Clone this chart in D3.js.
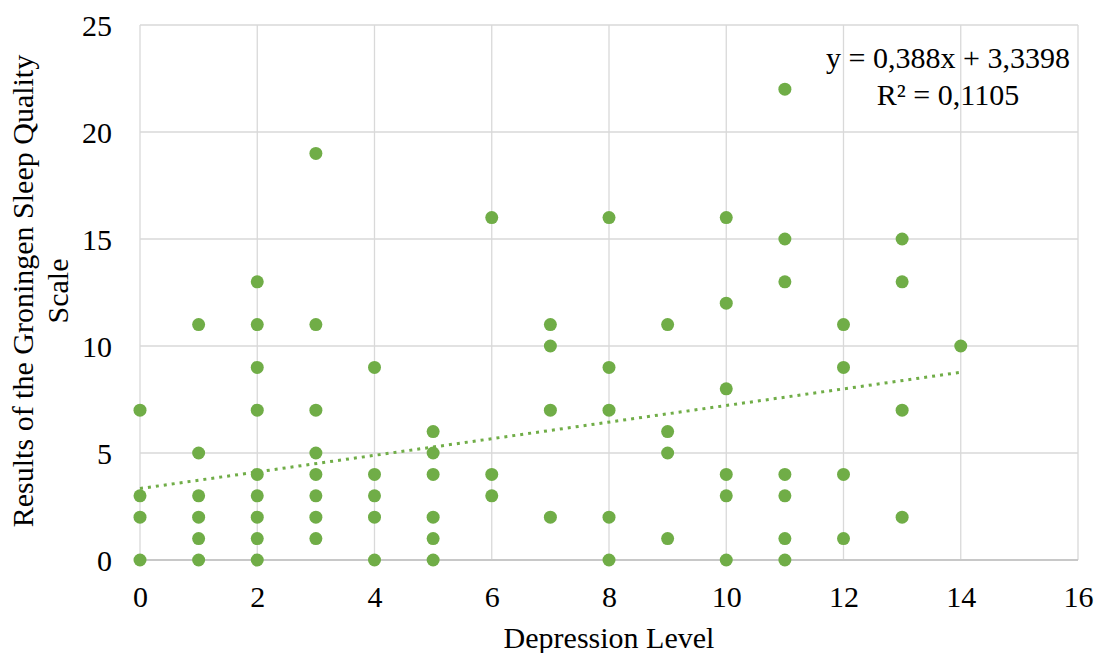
<!DOCTYPE html>
<html>
<head>
<meta charset="utf-8">
<script src="https://cdn.jsdelivr.net/npm/d3@7"></script>
<style>
  body { margin: 0; background: #fff; }
  text { font-family: "Liberation Serif", "Times New Roman", serif; fill: #000; }
</style>
</head>
<body>
<div id="chart"></div>
<script>
// depression level (x) and Groningen sleep quality score (y), one entry per dot
const depressionLevel = [
    0, 0, 0, 0,
    1, 1, 1, 1, 1, 1,
    2, 2, 2, 2, 2, 2, 2, 2, 2,
    3, 3, 3, 3, 3, 3, 3, 3,
    4, 4, 4, 4, 4,
    5, 5, 5, 5, 5, 5,
    6, 6, 6,
    7, 7, 7, 7,
    8, 8, 8, 8, 8,
    9, 9, 9, 9,
    10, 10, 10, 10, 10, 10,
    11, 11, 11, 11, 11, 11, 11,
    12, 12, 12, 12,
    13, 13, 13, 13,
    14
];
const sleepQuality = [
    7, 3, 2, 0,
    11, 5, 3, 2, 1, 0,
    13, 11, 9, 7, 4, 3, 2, 1, 0,
    19, 11, 7, 5, 4, 3, 2, 1,
    9, 4, 3, 2, 0,
    6, 5, 4, 2, 1, 0,
    16, 4, 3,
    11, 10, 7, 2,
    16, 9, 7, 2, 0,
    11, 6, 5, 1,
    16, 12, 8, 4, 3, 0,
    22, 15, 13, 4, 3, 1, 0,
    11, 9, 4, 1,
    15, 13, 7, 2,
    10
];
const xTicks = [0, 2, 4, 6, 8, 10, 12, 14, 16];
const yTicks = [0, 5, 10, 15, 20, 25];
const trendSlope = 0.388;
const trendIntercept = 3.3398;
const trendRange = [0, 14];
const equationLines = ["y = 0,388x + 3,3398", "R\u00b2 = 0,1105"];

const W = 1098, H = 653;
const margin = {top: 25, right: 20, bottom: 93, left: 140};
const width = W - margin.left - margin.right;
const height = H - margin.top - margin.bottom;
const green = "#70ad47";
const fontSize = "30px";

const svg = d3.select("#chart")
              .append("svg")
              .attr("width", W)
              .attr("height", H);
const g = svg.append("g")
             .attr("transform", "translate(" + margin.left + "," + margin.top + ")");

const x = d3.scaleLinear().domain([0, 16]).range([0, width]);
const y = d3.scaleLinear().domain([0, 25]).range([height, 0]);

// gridlines
g.append("g")
 .selectAll("line.vgrid")
 .data(xTicks)
 .enter()
 .append("line")
 .attr("x1", d => x(d)).attr("x2", d => x(d))
 .attr("y1", 0).attr("y2", height)
 .attr("stroke", "#d9d9d9").attr("stroke-width", 1.3);
g.append("g")
 .selectAll("line.hgrid")
 .data(yTicks)
 .enter()
 .append("line")
 .attr("x1", 0).attr("x2", width)
 .attr("y1", d => y(d)).attr("y2", d => y(d))
 .attr("stroke", d => d === 0 ? "#c8c8c8" : "#d9d9d9")
 .attr("stroke-width", d => d === 0 ? 2 : 1.3);

// axes (labels only)
const xAxis = g.append("g")
               .attr("transform", "translate(0," + height + ")")
               .call(d3.axisBottom(x).tickValues(xTicks).tickSize(0).tickPadding(26));
const yAxis = g.append("g")
               .call(d3.axisLeft(y).tickValues(yTicks).tickSize(0).tickPadding(28));
[xAxis, yAxis].forEach(a => {
    a.select(".domain").remove();
    a.selectAll("text")
     .style("font-family", "'Liberation Serif', 'Times New Roman', serif")
     .style("font-size", fontSize)
     .attr("fill", "#000");
});
xAxis.selectAll("text").attr("dy", "0.71em");
yAxis.selectAll("text").attr("dy", "0.35em");

// trendline
g.append("line")
 .attr("x1", x(trendRange[0]))
 .attr("y1", y(trendIntercept + trendSlope * trendRange[0]))
 .attr("x2", x(trendRange[1]))
 .attr("y2", y(trendIntercept + trendSlope * trendRange[1]))
 .attr("stroke", green)
 .attr("stroke-width", 3)
 .attr("stroke-dasharray", "3,5");

// points
g.append("g")
 .selectAll("circle")
 .data(depressionLevel.map((d, i) => ({x: d, y: sleepQuality[i]})))
 .enter()
 .append("circle")
 .attr("cx", d => x(d.x))
 .attr("cy", d => y(d.y))
 .attr("r", 6.5)
 .attr("fill", green);

// equation
const eqX = 948 - margin.left;
const eq = g.append("text")
            .attr("x", eqX)
            .attr("y", 68 - margin.top)
            .attr("text-anchor", "middle")
            .style("font-size", fontSize);
eq.selectAll("tspan")
  .data(equationLines)
  .enter()
  .append("tspan")
  .attr("x", eqX)
  .attr("dy", (d, i) => i === 0 ? 0 : 37)
  .text(d => d);

// axis titles
svg.append("text")
   .attr("x", margin.left + x(8))
   .attr("y", 648)
   .attr("text-anchor", "middle")
   .style("font-size", fontSize)
   .text("Depression Level");

const yTitle = svg.append("text")
                  .attr("transform", "translate(33," + 291 + ") rotate(-90)")
                  .attr("text-anchor", "middle")
                  .style("font-size", fontSize);
yTitle.append("tspan").attr("x", 0).attr("dy", 0).text("Results of the Groningen Sleep Quality");
yTitle.append("tspan").attr("x", 0).attr("dy", 35).text("Scale");
</script>
</body>
</html>
